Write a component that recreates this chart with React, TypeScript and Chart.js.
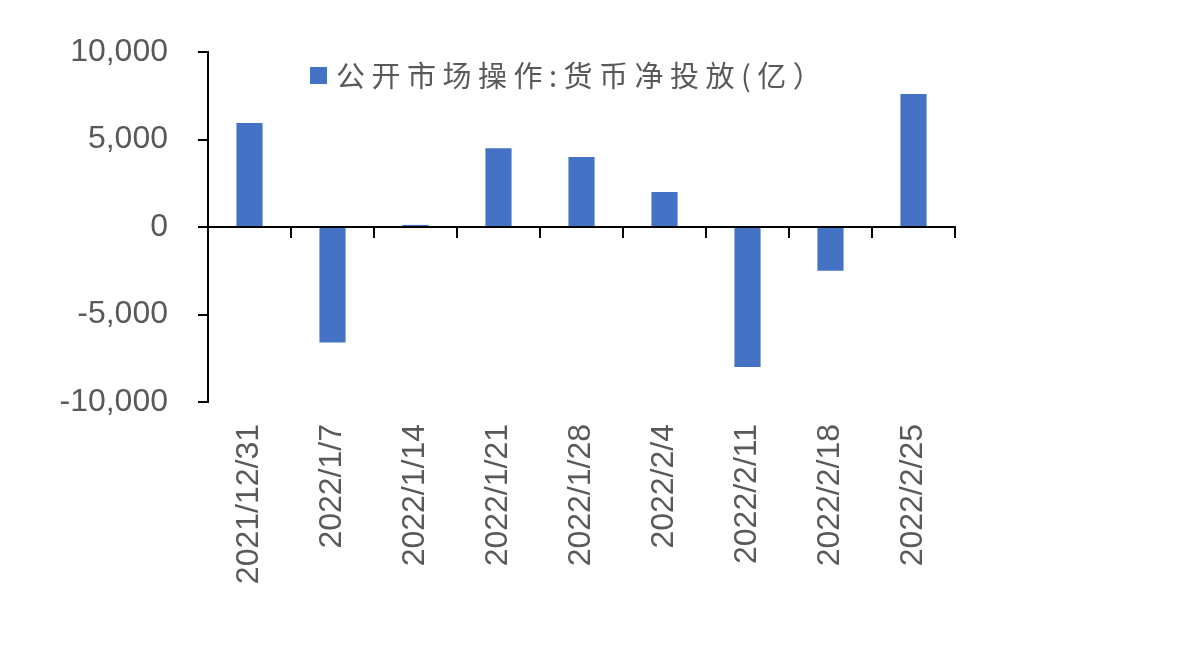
import React, { useEffect, useRef } from 'react';
import { Chart, registerables } from 'chart.js';

Chart.register(...registerables);

const categories = [
  '2021/12/31',
  '2022/1/7',
  '2022/1/14',
  '2022/1/21',
  '2022/1/28',
  '2022/2/4',
  '2022/2/11',
  '2022/2/18',
  '2022/2/25',
];

const netInjection = [5950, -6600, 120, 4500, 4000, 2000, -8000, -2500, 7600];

const seriesName = '公开市场操作:货币净投放(亿）';

const yMin = -10000;
const yMax = 10000;
const yStep = 5000;

const barColor = '#4472C4';
const textColor = '#595959';

const legendPlugin = {
  id: 'customLegend',
  afterDraw(chart: any) {
    const ctx = chart.ctx;
    const ds = chart.data.datasets[0];
    ctx.save();
    ctx.fillStyle = ds.backgroundColor;
    ctx.fillRect(310, 67, 17, 17);
    ctx.font = '29px "Noto Sans CJK SC"';
    (ctx as any).letterSpacing = '6.5px';
    ctx.fillStyle = textColor;
    ctx.textBaseline = 'middle';
    ctx.textAlign = 'left';
    ctx.fillText(ds.label, 336, 76);
    ctx.restore();
  },
};

export default function App() {
  const canvasRef = useRef<HTMLCanvasElement | null>(null);

  useEffect(() => {
    if (!canvasRef.current) return;
    const tickFont = { family: '"Liberation Sans", Arial, sans-serif', size: 32 };
    const chart = new Chart(canvasRef.current, {
      type: 'bar',
      data: {
        labels: categories,
        datasets: [
          {
            label: seriesName,
            data: netInjection,
            backgroundColor: barColor,
            borderWidth: 0,
            categoryPercentage: 1,
            barPercentage: 0.315,
            xAxisID: 'x',
            yAxisID: 'y',
          },
        ],
      },
      options: {
        animation: false,
        responsive: false,
        maintainAspectRatio: false,
        layout: { padding: { left: 0, right: 225, top: 52, bottom: 0 } },
        plugins: {
          legend: { display: false },
          tooltip: { enabled: false },
        },
        scales: {
          x: {
            type: 'category',
            position: { y: 0 } as any,
            offset: true,
            grid: {
              display: true,
              offset: true,
              drawOnChartArea: false,
              drawTicks: true,
              tickLength: 10,
              color: '#000',
              lineWidth: 2,
            },
            border: { display: true, color: '#000', width: 2 },
            ticks: { display: false },
          },
          x2: {
            type: 'category',
            position: 'bottom',
            offset: true,
            grid: { display: false },
            border: { display: false },
            ticks: {
              maxRotation: 90,
              minRotation: 90,
              autoSkip: false,
              padding: 14,
              color: textColor,
              font: tickFont,
            },
            afterFit: (s: any) => {
              s.height = 268;
            },
          },
          y: {
            min: yMin,
            max: yMax,
            ticks: {
              stepSize: yStep,
              padding: 30,
              color: textColor,
              font: tickFont,
            },
            grid: {
              drawOnChartArea: false,
              drawTicks: true,
              tickLength: 10,
              color: '#000',
              lineWidth: 2,
            },
            border: { color: '#000', width: 2 },
            afterFit: (s: any) => {
              s.width = 208;
            },
          },
        },
      },
      plugins: [legendPlugin],
    });
    return () => chart.destroy();
  }, []);

  return (
    <div style={{ position: 'fixed', left: 0, top: 0, width: 1180, height: 670, background: '#fff' }}>
      <canvas ref={canvasRef} width={1180} height={670} style={{ width: 1180, height: 670 }} />
    </div>
  );
}
